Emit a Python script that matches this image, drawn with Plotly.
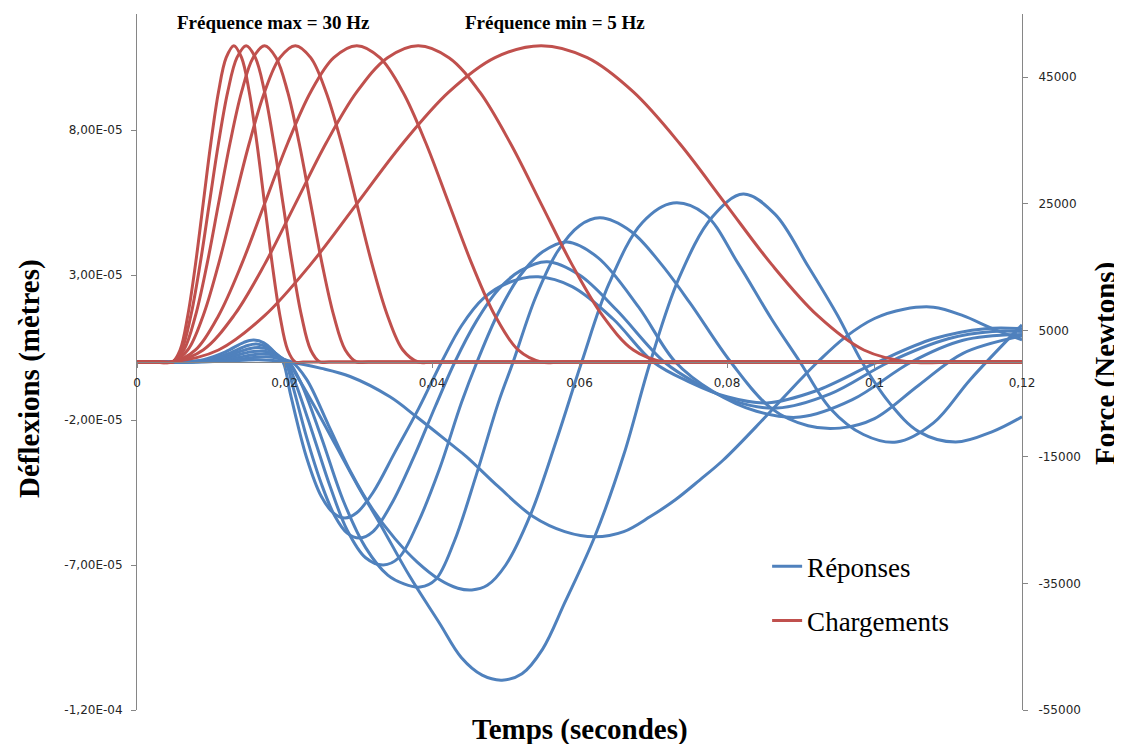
import plotly.graph_objects as go

# ---------------- data ----------------
# Responses (deflections, in units of 1e-5 m), one per loading frequency
t_rep_30 = [0, 0.006, 0.009, 0.012, 0.0145, 0.0158, 0.0172, 0.0186, 0.0198, 0.0208, 0.0230, 0.0250, 0.0266, 0.0282, 0.0298, 0.0320, 0.0350, 0.0382, 0.0413, 0.0440, 0.0470, 0.0505, 0.0544, 0.0590, 0.0645, 0.0700, 0.0750, 0.0800, 0.0854, 0.0920, 0.1000, 0.1080, 0.1150, 0.1200]
d_rep_30 = [0, 0, 0.08, 0.35, 0.68, 0.76, 0.66, 0.35, 0, -1.1, -3.3, -4.64, -5.2, -5.38, -5.2, -4.5, -3.1, -1.6, 0, 1.25, 2.2, 2.75, 2.94, 2.6, 1.5, 0, -0.7, -1.2, -1.41, -1.0, -0.05, 0.8, 1.15, 1.15]

t_rep_25 = [0, 0.006, 0.0095, 0.0125, 0.0150, 0.0162, 0.0176, 0.0190, 0.0201, 0.0212, 0.0230, 0.0250, 0.0268, 0.0285, 0.0302, 0.0320, 0.0345, 0.0375, 0.0405, 0.0431, 0.0460, 0.0490, 0.0520, 0.0556, 0.0600, 0.0650, 0.0715, 0.0760, 0.0810, 0.0868, 0.0940, 0.1020, 0.1100, 0.1160, 0.1200]
d_rep_25 = [0, 0, 0.06, 0.3, 0.57, 0.62, 0.52, 0.25, 0, -0.9, -2.6, -4.2, -5.3, -5.9, -6.07, -5.85, -4.9, -3.3, -1.5, 0, 1.4, 2.5, 3.15, 3.46, 3.0, 1.8, 0, -0.75, -1.35, -1.59, -1.1, 0.0, 0.8, 1.05, 1.05]

t_rep_20 = [0, 0.006, 0.0095, 0.0125, 0.0152, 0.0166, 0.0180, 0.0193, 0.0203, 0.0216, 0.0240, 0.0262, 0.0285, 0.0310, 0.0334, 0.0355, 0.0380, 0.0410, 0.0440, 0.0461, 0.0490, 0.0520, 0.0550, 0.0583, 0.0625, 0.0680, 0.0730, 0.0780, 0.0840, 0.0899, 0.0970, 0.1050, 0.1120, 0.1200]
d_rep_20 = [0, 0, 0.05, 0.24, 0.46, 0.5, 0.42, 0.2, 0, -0.8, -2.6, -4.3, -5.8, -6.75, -7.0, -6.75, -5.6, -3.7, -1.4, 0, 1.7, 3.0, 3.8, 4.14, 3.6, 1.9, 0, -1.0, -1.7, -1.9, -1.3, 0.0, 0.75, 0.95]

t_rep_15 = [0, 0.006, 0.010, 0.013, 0.0155, 0.0170, 0.0184, 0.0196, 0.0206, 0.0222, 0.0250, 0.0280, 0.0310, 0.0340, 0.0362, 0.0384, 0.0405, 0.0430, 0.0460, 0.0490, 0.0510, 0.0540, 0.0570, 0.0600, 0.0628, 0.0670, 0.0710, 0.0750, 0.0805, 0.0860, 0.0910, 0.0953, 0.1000, 0.1060, 0.1120, 0.1200]
d_rep_15 = [0, 0, 0.04, 0.2, 0.35, 0.38, 0.3, 0.12, 0, -0.7, -2.6, -4.8, -6.4, -7.35, -7.65, -7.76, -7.5, -6.2, -3.9, -1.4, 0, 2.2, 3.8, 4.7, 4.97, 4.5, 3.4, 2.03, 0, -1.6, -2.2, -2.28, -1.95, -0.8, 0.3, 0.9]

t_rep_10 = [0, 0.006, 0.010, 0.0135, 0.0160, 0.0175, 0.0188, 0.0200, 0.0210, 0.0230, 0.0260, 0.0290, 0.0320, 0.0350, 0.0380, 0.0410, 0.0435, 0.0454, 0.0475, 0.0500, 0.0533, 0.0570, 0.0603, 0.0640, 0.0685, 0.0727, 0.0770, 0.0815, 0.0860, 0.0899, 0.0940, 0.0985, 0.1030, 0.1080, 0.1130, 0.1200]
d_rep_10 = [0, 0, 0.03, 0.15, 0.26, 0.28, 0.22, 0.08, 0, -0.6, -2.2, -3.8, -5.1, -6.1, -6.9, -7.5, -7.8, -7.86, -7.7, -7.0, -5.3, -2.6, 0, 2.7, 4.8, 5.48, 5.1, 3.4, 1.5, 0, -1.6, -2.5, -2.76, -2.1, -0.6, 1.28]

t_rep_7_5 = [0, 0.006, 0.011, 0.015, 0.0175, 0.0192, 0.0205, 0.0215, 0.0240, 0.0270, 0.0300, 0.0330, 0.0370, 0.0410, 0.0440, 0.0468, 0.0495, 0.0522, 0.0550, 0.0580, 0.0621, 0.0660, 0.0696, 0.0735, 0.0780, 0.0822, 0.0865, 0.0910, 0.0950, 0.0983, 0.1020, 0.1060, 0.1110, 0.1160, 0.1200]
d_rep_7_5 = [0, 0, 0.03, 0.13, 0.18, 0.12, 0, -0.4, -1.5, -2.9, -4.3, -5.6, -7.4, -9.0, -10.2, -10.8, -10.97, -10.75, -9.9, -8.3, -6.0, -3.2, 0, 2.9, 5.0, 5.79, 5.1, 3.3, 1.6, 0, -1.4, -2.4, -2.76, -2.4, -1.89]

t_rep_5 = [0, 0.006, 0.012, 0.0165, 0.0205, 0.0250, 0.0289, 0.0343, 0.0379, 0.0424, 0.0447, 0.0490, 0.0537, 0.0580, 0.0621, 0.0660, 0.0696, 0.0730, 0.0763, 0.0795, 0.0850, 0.0899, 0.0923, 0.0960, 0.1000, 0.1040, 0.1080, 0.1120, 0.1160, 0.1200]
d_rep_5 = [0, 0, 0.03, 0.08, 0, -0.22, -0.5, -1.2, -1.89, -2.8, -3.27, -4.3, -5.33, -5.85, -6.03, -5.85, -5.33, -4.75, -4.07, -3.38, -1.95, -0.62, 0, 0.85, 1.5, 1.82, 1.89, 1.6, 1.15, 0.76]

# Loadings (force in N), one per frequency (30 Hz ... 5 Hz)
t_chg_30 = [0, 0.00376, 0.0048, 0.00584, 0.00688, 0.00793, 0.00897, 0.01001, 0.01105, 0.01209, 0.01313, 0.01418, 0.01522, 0.01626, 0.0173, 0.01834, 0.01938, 0.02043, 0.02147, 0.02251, 0.12]
t_chg_25 = [0, 0.00355, 0.0048, 0.00605, 0.0073, 0.00855, 0.0098, 0.01105, 0.0123, 0.01355, 0.0148, 0.01605, 0.0173, 0.01855, 0.0198, 0.02105, 0.0223, 0.02355, 0.0248, 0.02605, 0.12]
t_chg_20 = [0, 0.00324, 0.0048, 0.00636, 0.00793, 0.00949, 0.01105, 0.01261, 0.01418, 0.01574, 0.0173, 0.01886, 0.02043, 0.02199, 0.02355, 0.02511, 0.02668, 0.02824, 0.0298, 0.03136, 0.12]
t_chg_15 = [0, 0.00272, 0.0048, 0.00688, 0.00897, 0.01105, 0.01313, 0.01522, 0.0173, 0.01938, 0.02147, 0.02355, 0.02563, 0.02772, 0.0298, 0.03188, 0.03397, 0.03605, 0.03813, 0.04022, 0.12]
t_chg_10 = [0, 0.00168, 0.0048, 0.00793, 0.01105, 0.01418, 0.0173, 0.02043, 0.02355, 0.02668, 0.0298, 0.03293, 0.03605, 0.03918, 0.0423, 0.04543, 0.04855, 0.05168, 0.0548, 0.05793, 0.12]
t_chg_7_5 = [0, 0.0015, 0.0048, 0.00897, 0.01313, 0.0173, 0.02147, 0.02563, 0.0298, 0.03397, 0.03813, 0.0423, 0.04647, 0.05063, 0.0548, 0.05897, 0.06313, 0.0673, 0.07147, 0.07563, 0.12]
t_chg_5 = [0, 0.002, 0.0048, 0.01105, 0.0173, 0.02355, 0.0298, 0.03605, 0.0423, 0.04855, 0.0548, 0.06105, 0.0673, 0.07355, 0.0798, 0.08605, 0.0923, 0.09855, 0.1048, 0.11105, 0.12]
f_chg = [0, 0, 0, 1900, 7320, 15430, 25000, 34570, 42680, 48100, 50000, 48100, 42680, 34570, 25000, 15430, 7320, 1900, 0, 0, 0]

x_tickvals = [0, 0.02, 0.04, 0.06, 0.08, 0.1, 0.12]
x_ticktext = ["0", "0,02", "0,04", "0,06", "0,08", "0,1", "0,12"]
y_tickvals = [-1.2e-4, -7e-5, -2e-5, 3e-5, 8e-5]
y_ticktext = ["-1,20E-04", "-7,00E-05", "-2,00E-05", "3,00E-05", "8,00E-05"]
y2_tickvals = [-55000, -35000, -15000, 5000, 25000, 45000]
y2_ticktext = ["-55000", "-35000", "-15000", "5000", "25000", "45000"]

responses = [(t_rep_30, d_rep_30), (t_rep_25, d_rep_25), (t_rep_20, d_rep_20),
             (t_rep_15, d_rep_15), (t_rep_10, d_rep_10), (t_rep_7_5, d_rep_7_5),
             (t_rep_5, d_rep_5)]
loadings = [t_chg_30, t_chg_25, t_chg_20, t_chg_15, t_chg_10, t_chg_7_5, t_chg_5]

BLUE = "#4F81BD"
RED = "#C0504D"
SERIF = "Liberation Serif"
TICKFONT = dict(family="DejaVu Sans", size=12, color="#262626")

fig = go.Figure()
for i, (t, d) in enumerate(responses):
    fig.add_trace(go.Scatter(
        x=t, y=[v * 1e-5 for v in d], mode="lines",
        line=dict(color=BLUE, width=3, shape="spline", smoothing=1.0),
        name="Réponses", legendgroup="rep", showlegend=(i == 0),
        yaxis="y", hoverinfo="skip"))
for i, t in enumerate(loadings):
    fig.add_trace(go.Scatter(
        x=t, y=f_chg, mode="lines",
        line=dict(color=RED, width=3, shape="spline", smoothing=1.0),
        name="Chargements", legendgroup="chg", showlegend=(i == 0),
        yaxis="y2", hoverinfo="skip"))


def note(text, x, y, size, angle=0):
    return dict(text=text, x=x, y=y, xref="paper", yref="paper",
                xanchor="center", yanchor="middle", showarrow=False,
                textangle=angle, font=dict(family=SERIF, size=size, color="#000000"))


# the page body has an 8 px margin: the figure is sized so the plot area
# lands on the reference pixels (x 137..1022, y 14..710)
fig.update_layout(
    template="none",
    width=1114, height=736, autosize=False,
    margin=dict(l=129, r=100, t=6, b=34),
    paper_bgcolor="white", plot_bgcolor="white",
    xaxis=dict(range=[0, 0.12], anchor="free", position=0.5,
               showgrid=False, zeroline=False, showline=True,
               linecolor="#868686", linewidth=1,
               ticks="outside", ticklen=5, tickcolor="#868686",
               tickvals=x_tickvals, ticktext=x_ticktext, tickfont=TICKFONT,
               ticklabelstandoff=5, automargin=False),
    yaxis=dict(range=[-1.2e-4, 1.2e-4], showgrid=False, zeroline=False,
               showline=True, linecolor="#868686", linewidth=1,
               ticks="outside", ticklen=5, tickcolor="#868686",
               tickvals=y_tickvals, ticktext=y_ticktext, tickfont=TICKFONT,
               ticklabelstandoff=6, automargin=False),
    yaxis2=dict(range=[-55000, 55000], overlaying="y", side="right",
                showgrid=False, zeroline=False, showline=True,
                linecolor="#868686", linewidth=1,
                ticks="outside", ticklen=5, tickcolor="#868686",
                tickvals=y2_tickvals, ticktext=y2_ticktext, tickfont=TICKFONT,
                ticklabelstandoff=8, automargin=False),
    legend=dict(x=0.712, y=0.241, xanchor="left", yanchor="top",
                font=dict(family=SERIF, size=27, color="#000000"),
                tracegroupgap=16, bgcolor="rgba(0,0,0,0)", borderwidth=0),
    annotations=[
        note("<b>Fréquence max = 30 Hz</b>", 0.1537, 0.9885, 19),
        note("<b>Fréquence min = 5 Hz</b>", 0.4723, 0.9885, 19),
        note("<b>Temps (secondes)</b>", 0.5006, -0.0273, 29),
        note("<b>Déflexions (mètres)</b>", -0.1209, 0.4756, 29, -90),
        note("<b>Force (Newtons)</b>", 1.0949, 0.4986, 29, -90),
    ],
)

fig.write_html("out.html")
